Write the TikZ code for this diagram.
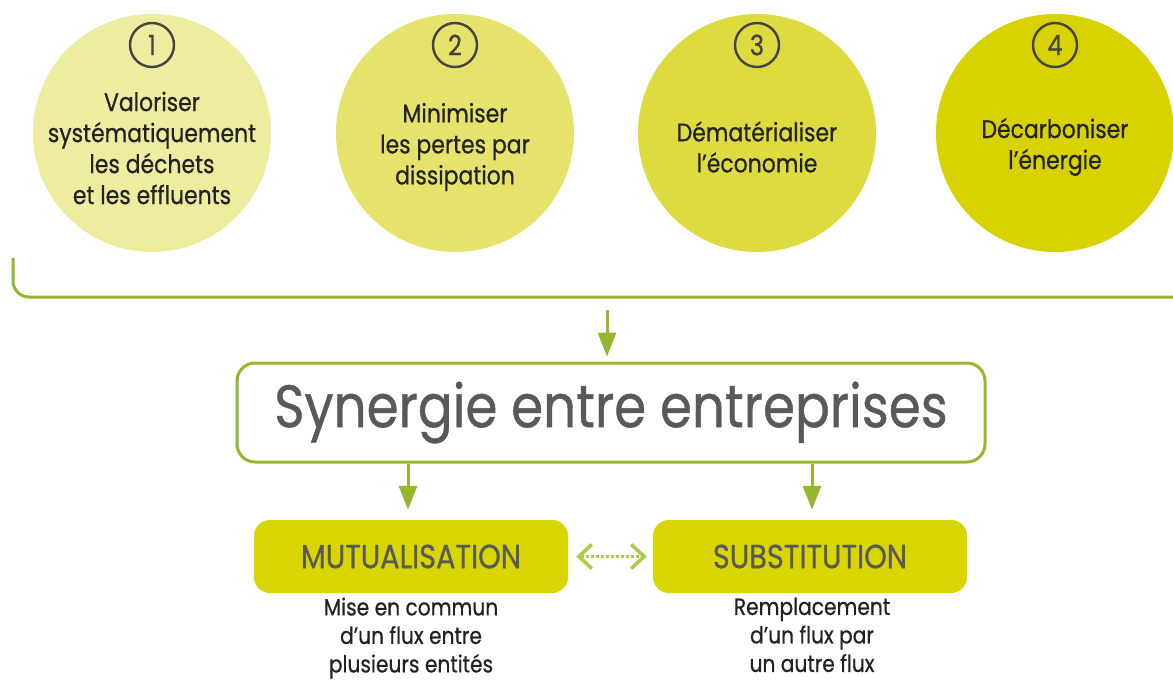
\documentclass[tikz,border=0pt]{standalone}
\usepackage{fontspec}
\setmainfont{Poppins}
\newfontfamily\gothic[FakeStretch=0.86,FakeBold=0.6]{Poppins}
\usetikzlibrary{arrows.meta}
\definecolor{lineg}{HTML}{93B82B}
\definecolor{chev}{HTML}{A8CC45}
\definecolor{cA}{HTML}{EEEC9E}
\definecolor{cB}{HTML}{E6E36C}
\definecolor{cC}{HTML}{DEDB40}
\definecolor{cD}{HTML}{D8D300}
\definecolor{boxy}{HTML}{D9D500}
\definecolor{txt}{HTML}{222222}
\definecolor{gtxt}{HTML}{58595B}
\tikzset{
  bub/.style={circle, minimum size=238pt, inner sep=0pt},
  num/.style={circle, draw=txt!85, line width=2.4pt, minimum size=44pt, inner sep=0pt, text=txt!85, font=\gothic\fontsize{28}{28}\selectfont},
  btxt/.style={align=center, text=txt, font=\gothic\fontsize{25.5}{31}\selectfont},
  brk/.style={draw=lineg, line width=3pt, rounded corners=16pt},
  arr/.style={draw=lineg, line width=3pt, -{Triangle[length=24pt,width=18pt]}},
  synbox/.style={draw=lineg, line width=3pt, rounded corners=18pt, minimum width=748pt, minimum height=99pt, fill=white, text=gtxt, font=\gothic\fontsize{60}{60}\selectfont},
  ybox/.style={fill=boxy, rounded corners=16pt, minimum width=314pt, minimum height=73pt, text=gtxt, font=\gothic\fontsize{33.5}{33.5}\selectfont},
  desc/.style={align=center, text=txt, font=\gothic\fontsize{23.5}{28.5}\selectfont},
  dbl/.style={draw=chev, line width=3pt, dotted, {Straight Barb[length=13pt,width=24pt,line width=3.5pt]}-{Straight Barb[length=13pt,width=24pt,line width=3.5pt]}}
}
\begin{document}
\begin{tikzpicture}[x=1pt,y=-1pt]
\useasboundingbox[fill=white] (0,0) rectangle (1173,683);
% circles
\node[bub, fill=cA] (c1) at (152,133) {};
\node[bub, fill=cB] (c2) at (455,133) {};
\node[bub, fill=cC] (c3) at (757,133) {};
\node[bub, fill=cD] (c4) at (1055,133) {};
\node[num] (n1) at (152,45) {1};
\node[num] (n2) at (455,45) {2};
\node[num] (n3) at (757,45) {3};
\node[num] (n4) at (1055,45) {4};
\node[btxt] (t1) at (152,148) {Valoriser\\systématiquement\\les déchets\\et les effluents};
\node[btxt] (t2) at (455,147) {Minimiser\\les pertes par\\dissipation};
\node[btxt] (t3) at (757,147) {Dématérialiser\\l’économie};
\node[btxt] (t4) at (1055,147) {Décarboniser\\l’énergie};
% bracket
\coordinate (bl) at (13,258);
\coordinate (br) at (1176,297);
\draw[brk] (bl) |- (br);
% synergy
\node[synbox] (syn) at (611,412.5) {Synergie entre entreprises};
\coordinate (a0) at (607,310);
\draw[arr, shorten >=5pt] (a0) -- (a0 |- syn.north);
% boxes
\node[ybox] (mut) at (411,556.5) {MUTUALISATION};
\node[ybox] (sub) at (810,556.5) {SUBSTITUTION};
\coordinate (xm) at (408,0);
\coordinate (xs) at (812,0);
\draw[arr, shorten >=10pt] (xm |- syn.south) -- (xm |- mut.north);
\draw[arr, shorten >=10pt] (xs |- syn.south) -- (xs |- sub.north);
\draw[dbl, shorten <=8pt, shorten >=6pt] (mut.east) -- (sub.west);
% descriptions
\node[desc, anchor=north] (d1) at (411,594) {Mise en commun\\d’un flux entre\\plusieurs entités};
\node[desc, anchor=north] (d2) at (812,594) {Remplacement\\d’un flux par\\un autre flux};
\end{tikzpicture}
\end{document}
